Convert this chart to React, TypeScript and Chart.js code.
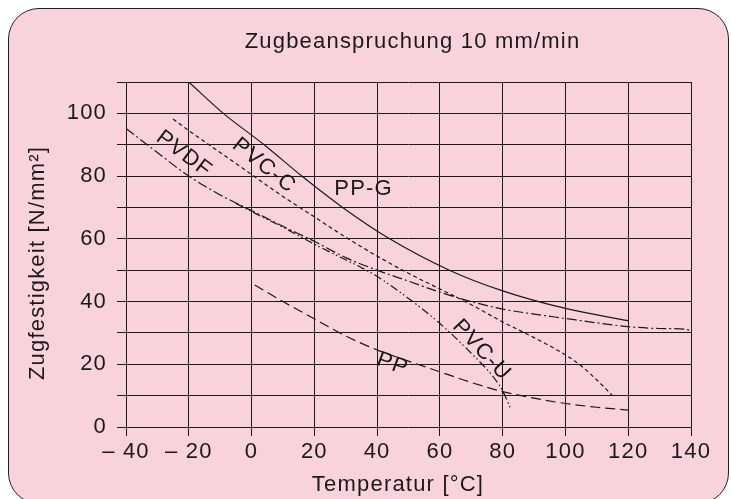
import React, { useEffect, useRef } from "react";
import { Chart, registerables } from "chart.js";

Chart.register(...registerables);

const FONT = "'Liberation Sans', Arial, sans-serif";
const INK = "#1a1a1a";
const SPACING = "1.2px";

// Axis ranges / ticks
const xMin = -40;
const xMax = 140;
const xStep = 20;
const yMin = 0;
const yMax = 110;
const yStep = 10;

// Series (Temperatur °C -> Zugfestigkeit N/mm²)
const ppgT = [-20, -9, 4, 16, 29, 44, 63, 80, 100, 120];
const ppgV = [110, 100, 90, 80, 70, 60, 50, 43.4, 37.8, 33.9];

const pvccT = [-25, -20, -10, 0, 10, 20, 30, 40, 50, 60, 70, 80, 90, 100, 105, 110, 115];
const pvccV = [98.2, 94.5, 87.5, 80.5, 73.5, 67, 60.5, 54.5, 49, 44, 39, 33.5, 28.5, 23, 19.5, 15, 10];

const pvdfT = [-40, -30, -20, -10, 0, 10, 20, 30, 40, 50, 60, 70, 80, 90, 100, 110, 120, 130, 138, 140];
const pvdfV = [95.2, 87.5, 80, 74, 69, 64, 59.2, 54, 50, 46.5, 43, 40, 37.6, 36, 34.6, 33.2, 32, 31.4, 31.2, 30.7];

const pvcuT = [-5, 0, 10, 20, 30, 35, 40, 50, 60, 70, 77, 80, 82.5];
const pvcuV = [71.3, 68.7, 63.7, 58.3, 53.3, 50.8, 48, 41, 33, 23.5, 16, 11.5, 6];

const ppT = [1, 10, 20, 30, 40, 50, 60, 70, 80, 90, 100, 110, 120];
const ppV = [45.3, 40, 34.5, 29, 24.6, 21, 17.6, 14.2, 11.3, 9.2, 7.5, 6.3, 5.4];

// Curve labels (data position + angle)
const labelTexts = ["PVDF", "PVC-C", "PP-G", "PVC-U", "PP"];
const labelT = [-21.5, 4, 35.7, 73.3, 44.9];
const labelV = [87, 83.3, 75.8, 24.5, 20];
const labelAngle = [37, 39, 0, 47, 20];

const titleText = "Zugbeanspruchung 10 mm/min";
const xTitle = "Temperatur [°C]";
const yTitle = "Zugfestigkeit [N/mm²]";

function pts(t: number[], v: number[]) {
  return t.map((x, i) => ({ x, y: v[i] }));
}

const spacingPlugin = {
  id: "spacing",
  beforeDraw(chart: any) {
    (chart.ctx as any).letterSpacing = SPACING;
  },
};

const textPlugin = {
  id: "customTexts",
  afterDatasetsDraw(chart: any) {
    const ctx = chart.ctx as CanvasRenderingContext2D;
    const xs = chart.scales.x;
    const ys = chart.scales.y;
    const area = chart.chartArea;
    ctx.save();
    (ctx as any).letterSpacing = SPACING;
    ctx.fillStyle = INK;
    ctx.font = `22px ${FONT}`;
    ctx.textAlign = "center";
    ctx.textBaseline = "middle";
    for (let i = 0; i < labelTexts.length; i++) {
      ctx.save();
      ctx.translate(xs.getPixelForValue(labelT[i]), ys.getPixelForValue(labelV[i]));
      ctx.rotate((labelAngle[i] * Math.PI) / 180);
      ctx.fillText(labelTexts[i], 0, 0);
      ctx.restore();
    }
    ctx.fillText(titleText, (area.left + area.right) / 2 + 4, 42);
    ctx.fillText(xTitle, 398, 485);
    ctx.save();
    ctx.translate(38, 263);
    ctx.rotate(-Math.PI / 2);
    ctx.fillText(yTitle, 0, 0);
    ctx.restore();
    ctx.restore();
  },
};

export default function App() {
  const ref = useRef<HTMLCanvasElement | null>(null);

  useEffect(() => {
    if (!ref.current) return;
    const common = {
      borderColor: INK,
      borderWidth: 1.2,
      pointRadius: 0,
      fill: false,
      tension: 0.4,
      cubicInterpolationMode: "monotone" as const,
    };
    const chart = new Chart(ref.current, {
      type: "line",
      data: {
        datasets: [
          { ...common, label: "PP-G", data: pts(ppgT, ppgV), borderDash: [] },
          { ...common, label: "PVC-C", data: pts(pvccT, pvccV), borderDash: [4, 3] },
          { ...common, label: "PVDF", data: pts(pvdfT, pvdfV), borderDash: [10, 3, 2, 3] },
          { ...common, label: "PVC-U", data: pts(pvcuT, pvcuV), borderDash: [8, 3, 1.5, 2.5, 1.5, 3] },
          { ...common, label: "PP", data: pts(ppT, ppV), borderDash: [10, 5] },
        ],
      },
      options: {
        animation: false,
        responsive: false,
        layout: { padding: { top: 82, right: 40, left: 0, bottom: 0 } },
        plugins: {
          legend: { display: false },
          tooltip: { enabled: false },
          title: { display: false },
        },
        scales: {
          x: {
            type: "linear",
            min: xMin,
            max: xMax,
            ticks: {
              stepSize: xStep,
              autoSkip: false,
              maxRotation: 0,
              padding: 3,
              color: INK,
              font: { family: FONT, size: 22 },
              callback: (v: any) => (Number(v) < 0 ? "– " + Math.abs(Number(v)) : String(v)),
            },
            grid: { color: INK, lineWidth: 1, tickLength: 9, drawTicks: true },
            border: { display: false },
            afterFit: (s: any) => {
              s.height = 72;
            },
          },
          y: {
            type: "linear",
            min: yMin,
            max: yMax,
            ticks: {
              stepSize: yStep,
              autoSkip: false,
              padding: 10,
              color: INK,
              font: { family: FONT, size: 22 },
              callback: (v: any) => (Number(v) % 20 === 0 && Number(v) <= 100 ? String(v) : ""),
            },
            grid: { color: INK, lineWidth: 1, tickLength: 9, drawTicks: true },
            border: { display: false },
            afterFit: (s: any) => {
              s.width = 126;
            },
          },
        },
      },
      plugins: [spacingPlugin, textPlugin],
    });
    return () => chart.destroy();
  }, []);

  return (
    <div
      style={{
        position: "fixed",
        left: 0,
        top: 0,
        width: 731,
        height: 499,
        overflow: "hidden",
        background: "#ffffff",
      }}
    >
      <div
        style={{
          position: "absolute",
          left: 8,
          top: 8,
          width: 721,
          height: 496,
          boxSizing: "border-box",
          border: "1.5px solid #222",
          borderRadius: 31,
          background: "#f9d3dc",
        }}
      />
      <canvas
        ref={ref}
        width={731}
        height={499}
        style={{ position: "absolute", left: 0, top: 0, width: 731, height: 499 }}
      />
    </div>
  );
}
